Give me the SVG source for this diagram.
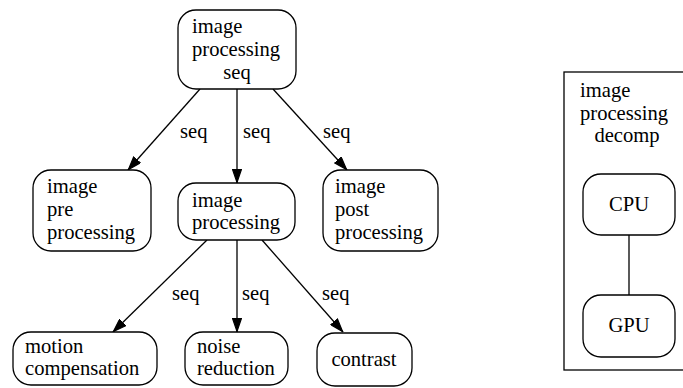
<svg xmlns="http://www.w3.org/2000/svg" width="683" height="388" viewBox="0 0 683 388">
  <style>
    .node rect { fill: #ffffff; stroke: #000000; stroke-width: 1.3; }
    .cluster rect { fill: none; stroke: #000000; stroke-width: 1.3; }
    text { font-family: 'Liberation Serif', 'Times New Roman', serif; font-size: 20.6px; fill: #000000; }
    .mid { text-anchor: middle; }
    .edge { stroke: #000000; stroke-width: 1.3; fill: none; }
    .arrow { stroke: #000000; stroke-width: 1.3; fill: none; marker-end: url(#head); }
  </style>
  <defs>
    <!-- filled triangular arrowhead, tip sits on the line end -->
    <marker id="head" viewBox="0 0 14 10" refX="14" refY="5" markerWidth="14" markerHeight="10" markerUnits="userSpaceOnUse" orient="auto">
      <path d="M0.6,0.6 L13.4,5 L0.6,9.4 Z" fill="#000000" stroke="#000000" stroke-width="1.2"/>
    </marker>
  </defs>

  <rect width="683" height="388" fill="#ffffff"/>

  <!-- decomposition cluster -->
  <g id="cluster_decomp" class="cluster">
    <rect x="564" y="72" width="130" height="298"/>
    <text x="580" y="97">image</text>
    <text x="580" y="120">processing</text>
    <text x="627" y="142" class="mid">decomp</text>
  </g>

  <!-- connectors -->
  <g id="edges">
    <line class="arrow" x1="200" y1="89" x2="128" y2="170"/>
    <line class="arrow" x1="237" y1="89" x2="237" y2="183"/>
    <line class="arrow" x1="273" y1="89" x2="347" y2="170"/>
    <line class="arrow" x1="207" y1="240" x2="113" y2="332"/>
    <line class="arrow" x1="237" y1="240" x2="237" y2="332"/>
    <line class="arrow" x1="262" y1="240" x2="343" y2="332"/>
    <line class="edge" x1="629" y1="235" x2="629" y2="295"/>
    <text x="180" y="138">seq</text>
    <text x="243" y="138">seq</text>
    <text x="323" y="138">seq</text>
    <text x="172" y="300">seq</text>
    <text x="242" y="300">seq</text>
    <text x="322" y="300">seq</text>
  </g>

  <g id="image_processing_seq" class="node">
    <rect x="178" y="10" width="118" height="79" rx="18" ry="18"/>
    <text x="192" y="33">image</text>
    <text x="192" y="56">processing</text>
    <text x="237" y="79" class="mid">seq</text>
  </g>

  <g id="image_pre_processing" class="node">
    <rect x="33" y="170" width="118" height="81" rx="18" ry="18"/>
    <text x="47" y="193">image</text>
    <text x="47" y="216">pre</text>
    <text x="47" y="239">processing</text>
  </g>

  <g id="image_processing" class="node">
    <rect x="178" y="183" width="117" height="57" rx="18" ry="18"/>
    <text x="192" y="207">image</text>
    <text x="192" y="229">processing</text>
  </g>

  <g id="image_post_processing" class="node">
    <rect x="323" y="170" width="115" height="81" rx="18" ry="18"/>
    <text x="335" y="193">image</text>
    <text x="335" y="216">post</text>
    <text x="335" y="239">processing</text>
  </g>

  <g id="motion_compensation" class="node">
    <rect x="13" y="332" width="144" height="53" rx="18" ry="18"/>
    <text x="25" y="353">motion</text>
    <text x="25" y="375">compensation</text>
  </g>

  <g id="noise_reduction" class="node">
    <rect x="185" y="332" width="103" height="53" rx="18" ry="18"/>
    <text x="197" y="353">noise</text>
    <text x="197" y="375">reduction</text>
  </g>

  <g id="contrast" class="node">
    <rect x="317" y="333" width="95" height="53" rx="18" ry="18"/>
    <text x="364" y="366" class="mid">contrast</text>
  </g>

  <g id="CPU" class="node">
    <rect x="583" y="174" width="92" height="61" rx="18" ry="18"/>
    <text x="629" y="211" class="mid">CPU</text>
  </g>

  <g id="GPU" class="node">
    <rect x="583" y="295" width="92" height="62" rx="18" ry="18"/>
    <text x="629" y="332" class="mid">GPU</text>
  </g>
</svg>
